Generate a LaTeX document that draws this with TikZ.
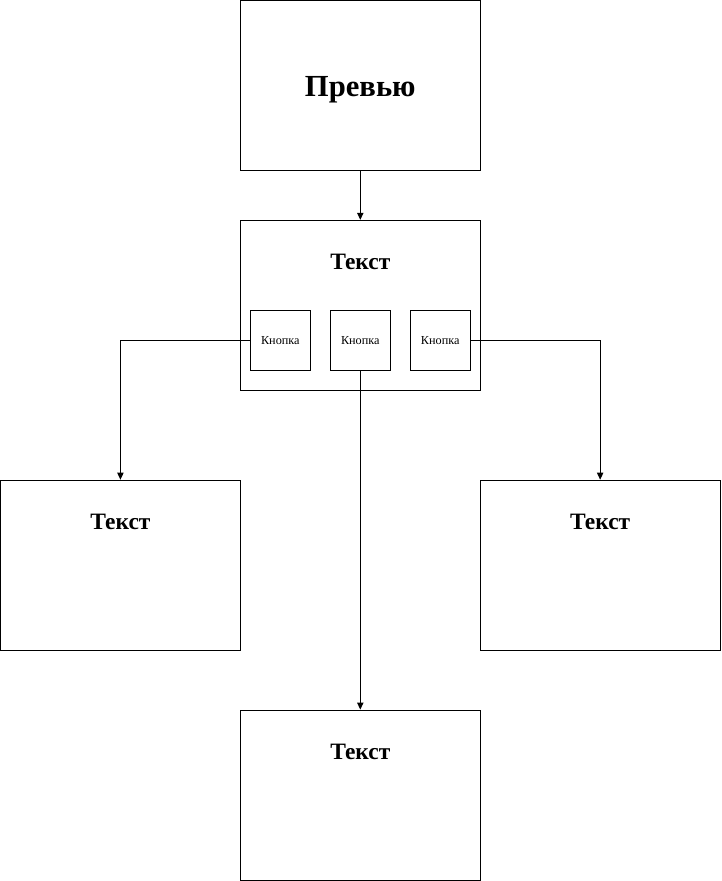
\documentclass[tikz,border=0pt]{standalone}
\usepackage{fontspec}
\setmainfont{Liberation Serif}
\usetikzlibrary{arrows.meta,calc}

\tikzset{
    screen/.style={draw,line width=0.7pt,minimum width=6cm,minimum height=4.25cm,inner sep=0pt},
    btn/.style={draw,line width=0.7pt,minimum width=1.5cm,minimum height=1.5cm,inner sep=0pt,font=\fontsize{8.7}{10}\selectfont},
    title/.style={font=\bfseries\fontsize{16.7}{18}\selectfont,inner sep=0pt},
    link/.style={-{Triangle[length=5pt,width=4.5pt]},line width=0.7pt}
}

\begin{document}
\begin{tikzpicture}[x=0.025cm,y=-0.025cm]
    \useasboundingbox (-0.5,-0.5) rectangle (721,881);

    % Screens
    \node[screen] (prev) at (360,85) {};
    \node[screen] (main) at (360,305) {};
    \node[screen] (left) at (120,565) {};
    \node[screen] (right) at (600,565) {};
    \node[screen] (bottom) at (360,795) {};

    % Titles
    \node[font=\bfseries\fontsize{21.8}{24}\selectfont,inner sep=0pt] (prevtxt) at (360,89) {Превью};
    \node[title] (maintxt) at (360,262) {Текст};
    \node[title] (lefttxt) at (120,522) {Текст};
    \node[title] (righttxt) at (600,522) {Текст};
    \node[title] (bottomtxt) at (360,752) {Текст};

    % Buttons
    \node[btn] (b1) at (280,340) {Кнопка};
    \node[btn] (b2) at (360,340) {Кнопка};
    \node[btn] (b3) at (440,340) {Кнопка};

    % Links
    \draw[link] (prev.south) -- (main.north);
    \draw[link] (b1.west) -| (left.north);
    \draw[link] (b3.east) -| (right.north);
    \draw[link] (b2.south) -- (bottom.north);
\end{tikzpicture}
\end{document}
